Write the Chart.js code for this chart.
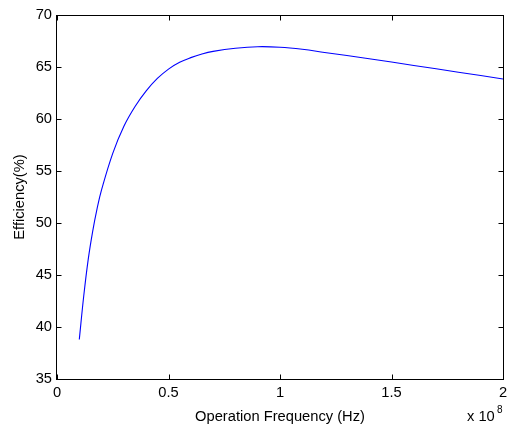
<!DOCTYPE html>
<html lang="en">
<head>
    <meta charset="UTF-8">
    <title>Efficiency vs Operation Frequency</title>
    <style>
        body { margin: 0; background: #ffffff; }
        #wrap { width: 507px; height: 427px; }
    </style>
</head>
<body>
    <div id="wrap">
        <canvas id="effChart" width="507" height="427"></canvas>
    </div>

    <script src="https://cdn.jsdelivr.net/npm/chart.js@4.4.3/dist/chart.umd.min.js"></script>
    <script>
        // frequency in units of 1e8 Hz
        const freq = [0.10, 0.12, 0.14, 0.16, 0.18, 0.20, 0.25, 0.30, 0.35, 0.40, 0.45, 0.50,
                      0.55, 0.60, 0.65, 0.70, 0.80, 0.90, 1.00, 1.10, 1.20, 1.40, 1.60, 1.80, 2.00];
        // efficiency in %
        const efficiency = [38.8, 43.0, 46.5, 49.2, 51.4, 53.2, 56.7, 59.3, 61.2, 62.7, 63.9, 64.8,
                            65.45, 65.9, 66.25, 66.5, 66.8, 66.95, 66.9, 66.7, 66.4, 65.8, 65.15, 64.5, 63.85];
        const xTicks = [0, 0.5, 1, 1.5, 2];
        const yTicks = [35, 40, 45, 50, 55, 60, 65, 70];

        const FONT = { family: 'Liberation Sans, Arial, Helvetica, sans-serif', size: 14.7 };

        // MATLAB style box with inward ticks on all sides
        const boxPlugin = {
            id: 'boxPlugin',
            afterDraw(chart) {
                const ctx = chart.ctx;
                const a = chart.chartArea;
                const xs = chart.scales.x, ys = chart.scales.y;
                const x0 = Math.floor(a.left) - 0.5, x1 = Math.round(a.right) + 0.5;
                const y0 = Math.round(a.top) + 0.5, y1 = Math.floor(a.bottom) + 0.5;
                const tl = 5;
                ctx.save();
                ctx.strokeStyle = '#000';
                ctx.lineWidth = 1;
                ctx.strokeRect(x0, y0, x1 - x0, y1 - y0);
                ctx.beginPath();
                xTicks.forEach(v => {
                    const px = Math.round(xs.getPixelForValue(v)) + 0.5;
                    ctx.moveTo(px, y1); ctx.lineTo(px, y1 - tl);
                    ctx.moveTo(px, y0); ctx.lineTo(px, y0 + tl);
                });
                yTicks.forEach(v => {
                    const py = Math.round(ys.getPixelForValue(v)) + 0.5;
                    ctx.moveTo(x0, py); ctx.lineTo(x0 + tl, py);
                    ctx.moveTo(x1, py); ctx.lineTo(x1 - tl, py);
                });
                ctx.stroke();

                // exponent label
                ctx.fillStyle = '#000';
                ctx.textBaseline = 'alphabetic';
                ctx.textAlign = 'left';
                ctx.font = '14.7px ' + FONT.family;
                ctx.fillText('x 10', 467, 421);
                ctx.font = '10px ' + FONT.family;
                ctx.fillText('8', 497, 413);
                ctx.restore();
            }
        };

        const config = {
            type: 'line',
            data: {
                datasets: [{
                    data: freq.map((f, i) => ({ x: f, y: efficiency[i] })),
                    borderColor: '#0000ff',
                    borderWidth: 1.1,
                    pointRadius: 0,
                    fill: false,
                    tension: 0.4
                }]
            },
            options: {
                responsive: false,
                animation: false,
                layout: { autoPadding: false, padding: { top: 15, right: 4, left: 0, bottom: 0 } },
                plugins: { legend: { display: false }, tooltip: { enabled: false } },
                scales: {
                    x: {
                        type: 'linear',
                        min: 0,
                        max: 2,
                        afterBuildTicks: s => { s.ticks = xTicks.map(v => ({ value: v })); },
                        afterFit: s => { s.height = 48; s.paddingLeft = 0; s.paddingRight = 0; },
                        grid: { display: false, drawTicks: false },
                        border: { display: false },
                        ticks: {
                            color: '#000',
                            font: FONT,
                            padding: 5,
                            maxRotation: 0,
                            callback: v => String(v)
                        },
                        title: {
                            display: true,
                            text: 'Operation Frequency (Hz)',
                            color: '#000',
                            font: FONT,
                            padding: { top: 0, bottom: 1 }
                        }
                    },
                    y: {
                        min: 35,
                        max: 70,
                        afterBuildTicks: s => { s.ticks = yTicks.map(v => ({ value: v })); },
                        afterFit: s => { s.width = 57; s.paddingTop = 0; s.paddingBottom = 0; },
                        grid: { display: false, drawTicks: false },
                        border: { display: false },
                        ticks: {
                            color: '#000',
                            font: FONT,
                            padding: 5,
                            callback: v => String(v)
                        },
                        title: {
                            display: true,
                            text: 'Efficiency(%)',
                            color: '#000',
                            font: FONT,
                            padding: { top: 11, bottom: 0 }
                        }
                    }
                }
            },
            plugins: [boxPlugin]
        };

        const ctx = document.getElementById('effChart').getContext('2d');
        const effChart = new Chart(ctx, config);
    </script>
</body>
</html>
